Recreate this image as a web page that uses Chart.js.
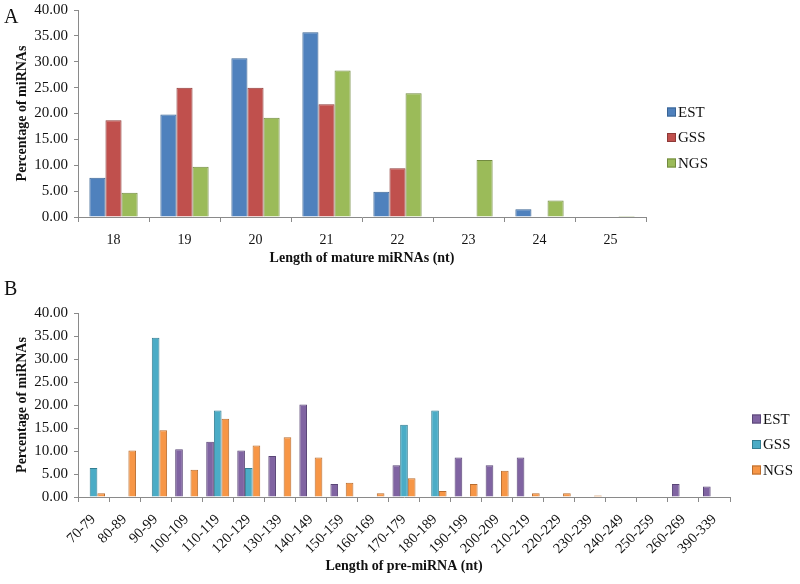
<!DOCTYPE html>
<html><head><meta charset="utf-8">
<script src="https://cdn.jsdelivr.net/npm/chart.js@4"></script>
<style>
html,body{margin:0;padding:0;background:#fff;width:800px;height:584px;overflow:hidden;}
#wrapA{position:absolute;left:0;top:-5px;width:800px;height:285px;}
#wrapB{position:absolute;left:0;top:280px;width:800px;height:304px;}
.lbl{position:absolute;font-family:"Liberation Serif","Times New Roman",serif;font-size:20px;line-height:20px;color:#111;}
</style></head><body>
<div id="wrapA"><canvas id="cA" width="800" height="285"></canvas></div>
<div id="wrapB"><canvas id="cB" width="800" height="304"></canvas></div>
<div class="lbl" style="left:4px;top:6px">A</div>
<div class="lbl" style="left:4px;top:278px">B</div>
<script>
// ---- Data: panel A (mature miRNA length) ----
const matureLengths = ['18','19','20','21','22','23','24','25'];
const estMature = [7.6, 19.8, 30.7, 35.7, 4.9, null, 1.5, null];
const gssMature = [18.7, 25.0, 25.0, 21.8, 9.4, null, null, null];
const ngsMature = [4.7, 9.7, 19.2, 28.3, 23.9, 11.0, 3.2, 0.2];

// ---- Data: panel B (pre-miRNA length) ----
const preLengths = ['70-79','80-89','90-99','100-109','110-119','120-129','130-139','140-149','150-159','160-169','170-179','180-189','190-199','200-209','210-219','220-229','230-239','240-249','250-259','260-269','390-339'];
const estPre = [null, null, null, 10.4, 12.0, 10.1, 8.9, 20.1, 2.8, null, 6.9, null, 8.6, 6.9, 8.6, null, null, null, null, 2.8, 2.3];
const gssPre = [6.3, null, 34.6, null, 18.8, 6.3, null, null, null, null, 15.7, 18.8, null, null, null, null, null, null, null, null, null];
const ngsPre = [0.8, 10.1, 14.5, 5.9, 17.0, 11.2, 13.0, 8.6, 3.1, 0.8, 4.1, 1.3, 2.8, 5.7, 0.8, 0.8, 0.3, null, null, null, null];

const yTicks = {min: 0, max: 40, step: 5};

Chart.defaults.font.family = '"Liberation Serif","Times New Roman",serif';
Chart.defaults.color = '#111';

const fixedLegend = {
  id: 'fixedLegend',
  afterDraw(chart, args, opts) {
    const ctx = chart.ctx;
    ctx.save();
    chart.data.datasets.forEach((ds, i) => {
      const y = opts.y0 + i * opts.dy;
      ctx.fillStyle = ds.backgroundColor;
      ctx.fillRect(opts.x, y - 4.5, 9, 9);
      ctx.strokeStyle = ds.borderColor;
      ctx.lineWidth = 1;
      ctx.strokeRect(opts.x + 0.5, y - 4, 8, 8);
      ctx.fillStyle = '#111';
      ctx.font = '15px "Liberation Serif"';
      ctx.textBaseline = 'middle';
      ctx.textAlign = 'left';
      ctx.fillText(ds.label, opts.x + 11, y + 1);
    });
    ctx.restore();
  }
};

function makeChart(id, labels, series, colors, cfg) {
  return new Chart(document.getElementById(id), {
    type: 'bar',
    data: {
      labels: labels,
      datasets: series.map((s, i) => ({
        label: s.name,
        data: s.data,
        backgroundColor: colors[i][0],
        borderColor: colors[i][1],
        borderWidth: 1,
        categoryPercentage: cfg.catPct,
        barPercentage: 1.0
      }))
    },
    options: {
      responsive: false,
      animation: false,
      layout: {padding: cfg.padding},
      plugins: {
        legend: {display: false},
        tooltip: {enabled: false},
        fixedLegend: cfg.legend
      },
      scales: {
        x: {
          grid: {drawOnChartArea: false, drawTicks: true, tickLength: 5, color: '#8a8a8a', offset: true},
          border: {display: true, color: '#8a8a8a', width: 1},
          ticks: {font: {size: cfg.xFont}, color: '#111', maxRotation: cfg.rot, minRotation: cfg.rot, padding: cfg.xPad, autoSkip: false},
          title: {display: true, text: cfg.xTitle, font: {size: 14, weight: 'bold'}, color: '#111', padding: {top: 4, bottom: 4}},
          afterFit: s => { s.height = cfg.xHeight; }
        },
        y: {
          min: yTicks.min, max: yTicks.max,
          grid: {drawOnChartArea: false, drawTicks: true, tickLength: 4, color: '#8a8a8a'},
          border: {display: true, color: '#8a8a8a', width: 1},
          ticks: {stepSize: yTicks.step, font: {size: 15}, color: '#111', padding: 6, callback: v => v.toFixed(2)},
          title: {display: true, text: 'Percentage of miRNAs', font: {size: 14, weight: 'bold'}, color: '#111', padding: {top: 4, bottom: 4}},
          afterFit: s => { s.width = 68; }
        }
      }
    },
    plugins: [fixedLegend]
  });
}

makeChart('cA', matureLengths,
  [{name: 'EST', data: estMature}, {name: 'GSS', data: gssMature}, {name: 'NGS', data: ngsMature}],
  [['#4F81BD', '#3A6494'], ['#C0504D', '#8E3A38'], ['#9BBB59', '#728A40']],
  {catPct: 0.68, rot: 0, xFont: 14, xPad: 10, xTitle: 'Length of mature miRNAs (nt)', xHeight: 54,
   padding: {left: 10, top: 10, right: 154, bottom: 9},
   legend: {x: 667, y0: 117, dy: 25.5}});

makeChart('cB', preLengths,
  [{name: 'EST', data: estPre}, {name: 'GSS', data: gssPre}, {name: 'NGS', data: ngsPre}],
  [['#8064A2', '#5A4677'], ['#4BACC6', '#337E92'], ['#F79646', '#B86C2E']],
  {catPct: 0.74, rot: 45, xFont: 14.5, xPad: 9, xTitle: 'Length of pre-miRNA (nt)', xHeight: 82,
   padding: {left: 10, top: 33, right: 70, bottom: 5},
   legend: {x: 752, y0: 139, dy: 25.5}});
</script>
</body></html>
